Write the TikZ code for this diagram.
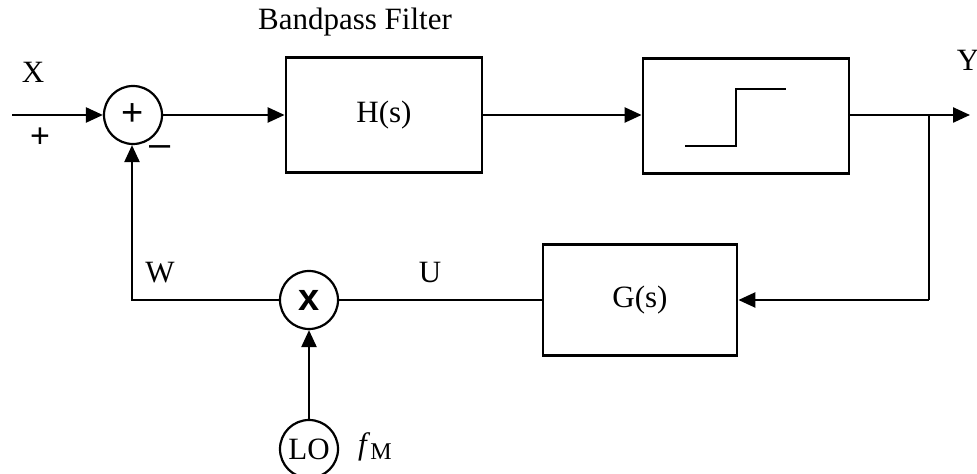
\documentclass[tikz,border=0pt]{standalone}
\usepackage{fontspec}
\setmainfont{Liberation Serif}
\newfontfamily\arialfont{Liberation Sans}
\usepackage{tikz}
\usetikzlibrary{positioning,arrows.meta,calc}

\begin{document}
\begin{tikzpicture}[
    x=0.5pt, y=-0.5pt,
    font=\fontsize{15.5}{18}\selectfont,
    block/.style={draw, line width=1.4pt, inner sep=0pt},
    junction/.style={draw, circle, line width=1.1pt, minimum size=29pt, inner sep=0pt},
    flow/.style={-{Triangle[length=8.5pt,width=7.5pt]}, line width=1.2pt},
    wire/.style={line width=1.2pt},
    sign/.style={font=\arialfont\fontsize{19}{20}\selectfont},
]
  \useasboundingbox (0,0) rectangle (977,474);

  % forward path
  \node[junction, sign] (sum) at (133,115) {+};
  \node[block, minimum width=98pt, minimum height=57.5pt] (hfilt) at (384,115) {H(s)};
  \node[block, minimum width=103pt, minimum height=57.5pt] (limit) at (746,116) {};
  \node[block, minimum width=97pt, minimum height=55.5pt] (gfilt) at (640,300) {G(s)};
  \node[junction, font=\arialfont\bfseries\fontsize{19}{20}\selectfont] (mix) at (309,300) {x};
  \node[junction] (lo) at (309,449) {LO};

  \coordinate (xin)   at (12,115);
  \coordinate (split) at (929,115);
  \coordinate (yout)  at (970,115);
  \coordinate (back)  at (929,300);
  \coordinate (wcorn) at (132,300);

  % step characteristic
  \draw[wire] (685,146) -- (736,146) -- (736,89) -- (786,89);

  \draw[flow] (xin) -- (sum.west);
  \draw[flow] (sum.east) -- (hfilt.west);
  \draw[flow] (hfilt.east) -- (limit.west |- hfilt.east);
  \draw[flow] (limit.east |- split) -- (yout);
  \draw[wire] (split) -- (back);
  \draw[flow] (back) -- (gfilt.east);
  \draw[wire] (gfilt.west) -- (mix.east);
  \draw[flow] (mix.west) -- (wcorn) -- (wcorn |- sum.south);
  \draw[flow] (lo.north) -- (mix.south);

  % labels
  \node (lx) at (33,72) {X};
  \node[sign, font=\arialfont\fontsize{17}{18}\selectfont] (lplus) at (40,138) {+};
  \node[sign] (lminus) at (160,151) {\textendash};
  \node (lbpf) at (355,22) {Bandpass Filter};
  \node (ly) at (968,60) {Y};
  \node (lw) at (160,273) {W};
  \node (lu) at (430,273) {U};
  \node (lfm) at (375,447) {\textit{f}\raisebox{-0.35ex}{\fontsize{12}{14}\selectfont M}};
\end{tikzpicture}
\end{document}
